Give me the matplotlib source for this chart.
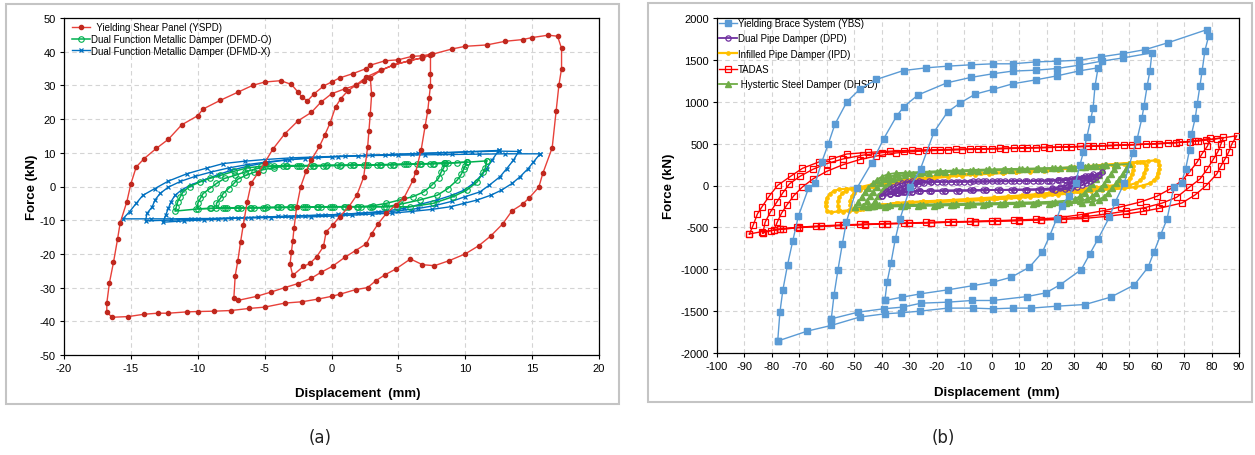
import numpy as np
import matplotlib.pyplot as plt
from matplotlib.patches import Rectangle

plt.rcParams['font.family'] = ['Liberation Sans', 'DejaVu Sans']
plt.rcParams['axes.unicode_minus'] = False

# ---------------- (a) data: force (kN) vs displacement (mm) ----------------
yspd = [(2.9,32.3),(3.0,27.3),(2.9,21.6),(2.8,16.4),(2.7,11.6),(2.4,2.7),(1.9,-2.5),(1.3,-6),(0.6,-9),(0.1,-11.4),
        (-0.4,-13.4),(-0.6,-17.8),(-1.1,-20.8),(-1.6,-22.8),(-2.1,-23.7),(-2.9,-26.4),(-3.1,-23),(-3.0,-19.5),(-2.9,-16.3),
        (-2.8,-12.3),(-2.6,-6),(-2.3,0),(-1.9,4.5),(-1.5,8),(-0.9,11.9),(-0.5,15.3),(-0.1,18.9),(0.3,23.6),(0.7,26.1),
        (1.2,28.3),(1.8,30),(2.4,31.2),(2.9,32.3),(3.7,34.5),(4.6,36),(5.8,37.3),(6.8,38.2),(7.4,39.0),
        (7.4,33.5),(7.4,29.9),(7.3,26.4),(7.2,22.5),(7.0,17.9),(6.7,10.8),(6.3,4.4),(6.1,1.9),(5.4,-3.5),(4.8,-5.5),
        (4.1,-8),(3.5,-11),(3.0,-14),(2.6,-17),(1.8,-19),(1.0,-21),(0.1,-23.6),(-0.8,-25.5),(-1.5,-27.2),(-2.5,-28.8),
        (-3.5,-30),(-4.5,-31.3),(-5.6,-32.6),(-7.0,-33.8),(-7.3,-33.0),(-7.2,-26.5),(-7.0,-22),(-6.8,-16.5),(-6.6,-11.5),
        (-6.3,-4.5),(-6.0,1),(-5.5,4),(-5.0,7),(-4.4,11),(-3.5,15.6),(-2.5,19.5),(-1.5,22),(-0.8,25),(0,27.5),(1.0,29),
        (1.8,30),(2.6,32.5),(3.7,34.5),(4.6,36),(5.8,37.3),(6.8,38.2),(7.5,39.2),
        (9.0,40.8),(10.0,41.6),(11.6,42.0),(13.0,43.1),(14.3,43.6),(15.0,44.2),(16.2,44.9),(16.9,44.6),(17.2,41),(17.2,35),
        (17.0,30),(16.8,22.5),(16.5,11.5),(15.8,3.9),(15.5,-0.2),(14.8,-3.3),(14.3,-5.2),(13.5,-7.2),(12.8,-11.1),
        (11.9,-14.7),(11.0,-17.6),(10.0,-20),(8.8,-22),(7.7,-23.5),(6.8,-23.2),(5.9,-21.5),(4.8,-24.5),(4.0,-26.2),
        (3.3,-28),(2.7,-30),(1.8,-30.6),(0.6,-32),(0,-32.6),(-1.0,-33.4),(-2.2,-34.2),(-3.5,-34.6),(-5.0,-35.8),
        (-6.2,-36.2),(-7.5,-36.8),(-8.8,-37),(-10.0,-37.1),(-10.8,-37.2),(-12.2,-37.6),(-13.0,-37.6),(-14.0,-37.9),
        (-15.2,-38.6),(-16.4,-38.8),(-16.8,-37.3),(-16.8,-34.6),(-16.6,-28.5),(-16.3,-22.5),(-16.0,-15.7),(-15.8,-10.8),
        (-15.3,-4.5),(-15.0,0.8),(-14.6,5.8),(-14.0,8.3),(-13.1,11.3),(-12.2,14),(-11.2,18.3),(-10.0,21),(-9.6,23),
        (-8.3,25.6),(-7.0,28),(-5.9,30),(-5.0,31),(-3.8,31.4),(-3.0,30.3),(-2.5,28),(-2.2,26.5),(-1.8,25.4),(-1.3,27.5),
        (-0.6,29.8),(0,31),(0.6,32.2),(1.6,33.5),(2.6,35),(2.9,36),(4.0,37.3),(5.0,37.6),(6.0,38.6),(6.8,38.8),(7.5,39.3)]

dfmd_o = [
    [(8.5,7.0),(8.4,5.6),(8.2,4.3),(8.0,2.4),(7.5,0.4),(6.9,-1.6),(6.1,-3.0),(5.1,-4.0),(4.1,-5.0),(3.1,-5.7),(2.2,-6.0),
     (1.2,-6.0),(0.2,-6.0),(-0.8,-6.0),(-1.8,-6.1),(-2.8,-6.1),(-3.8,-6.2),(-4.8,-6.2),(-5.8,-6.3),(-6.8,-6.3),(-7.8,-6.3),
     (-8.6,-6.4),(-8.6,-5.0),(-8.3,-3.5),(-8.1,-2.1),(-7.7,-0.6),(-7.3,0.9),(-7.0,2.2),(-6.4,3.3),(-5.8,4.2),(-5.1,5.0),
     (-4.3,5.6),(-3.4,6.0),(-2.4,6.1),(-1.4,6.1),(-0.4,6.2),(0.6,6.2),(1.6,6.3),(2.6,6.3),(3.6,6.4),(4.6,6.5),(5.6,6.6),
     (6.6,6.7),(7.6,6.8)],
    [(10.1,7.3),(10.0,6.2),(9.9,5.3),(9.7,3.6),(9.4,1.9),(8.7,-0.6),(7.9,-2.6),(6.6,-4.0),(5.1,-5.3),(4.1,-6.0),(3.0,-6.0),
     (2.0,-6.0),(1.0,-6.0),(0,-6.0),(-1.0,-6.1),(-2.0,-6.1),(-3.0,-6.2),(-4.0,-6.2),(-5.0,-6.3),(-6.0,-6.3),(-7.0,-6.4),
     (-8.0,-6.4),(-9.0,-6.5),(-10.0,-6.6),(-10.0,-5.0),(-9.8,-3.5),(-9.6,-2.1),(-9.1,-0.6),(-8.6,0.9),(-8.0,2.4),
     (-7.2,3.3),(-6.5,4.3),(-5.6,5.3),(-4.6,6.0),(-3.6,6.1),(-2.6,6.1),(-1.6,6.2),(-0.6,6.2),(0.4,6.3),(1.4,6.3),
     (2.4,6.4),(3.4,6.4),(4.4,6.5),(5.4,6.6),(6.4,6.7),(7.4,6.8),(8.4,6.9),(9.4,7.1)],
    [(11.6,7.6),(11.5,5.5),(11.35,4.3),(10.9,1.4),(10.1,-1.1),(9.1,-3.0),(7.6,-5.0),(5.9,-6.0),(4.9,-6.0),(3.9,-6.0),
     (2.9,-6.0),(1.9,-6.0),(0.9,-6.0),(-0.1,-6.1),(-1.1,-6.1),(-2.1,-6.1),(-3.1,-6.2),(-4.1,-6.2),(-5.1,-6.3),(-6.1,-6.3),
     (-7.1,-6.4),(-8.1,-6.4),(-9.1,-6.5),(-10.1,-6.7),(-11.7,-7.3),(-11.6,-6.0),(-11.5,-4.5),(-11.3,-3.0),(-11.1,-1.6),
     (-10.6,0),(-9.8,1.4),(-9.1,2.4),(-8.3,3.3),(-7.3,4.5),(-6.3,5.5),(-5.3,6.0),(-4.3,6.1),(-3.3,6.2),(-2.3,6.2),
     (-1.3,6.2),(-0.3,6.3),(0.7,6.3),(1.7,6.4),(2.7,6.4),(3.7,6.5),(4.7,6.5),(5.7,6.6),(6.7,6.7),(7.7,6.8),(8.7,6.9),
     (10.1,7.2)],
]

dfmd_x = [
    [(12.5,10.7),(12.0,7.8),(11.6,5.3),(11.2,3.3),(10.6,0.9),(9.9,-1.1),(9.0,-2.6),(7.9,-4.0),(6.6,-5.3),(5.4,-6.5),
     (4.0,-7.3),(2.5,-7.8),(1.0,-8.2),(-0.5,-8.5),(-2,-8.7),(-3.5,-8.9),(-5,-9.1),(-6.5,-9.3),(-8,-9.6),(-9.5,-9.9),
     (-11,-10.2),(-12.6,-10.6),(-12.4,-8.5),(-12.2,-6.5),(-12.0,-4.5),(-11.7,-2.6),(-11.2,-1.0),(-10.5,0.5),(-9.5,2.0),
     (-8.5,3.5),(-7.5,4.8),(-6.3,6.0),(-5,7),(-3.5,7.8),(-2,8.3),(0,8.8),(2,9.1),(4,9.4),(6,9.7),(8,10.0),(10,10.3)],
    [(14.0,10.4),(13.6,7.8),(13.1,5.3),(12.6,2.9),(11.8,0.4),(11.1,-1.6),(10.0,-3.0),(9.0,-4.4),(7.8,-5.6),(6.5,-6.5),
     (5.0,-7.2),(3.5,-7.7),(2,-8.0),(0.5,-8.3),(-1,-8.5),(-2.5,-8.7),(-4,-8.9),(-5.5,-9.1),(-7,-9.3),(-8.5,-9.5),
     (-10,-9.7),(-11.5,-9.9),(-13.9,-10.2),(-13.8,-8),(-13.4,-6),(-13.2,-4),(-12.8,-2),(-12.2,-0.2),(-11.3,1.5),
     (-10.2,3.0),(-9,4.3),(-7.7,5.5),(-6.3,6.5),(-4.8,7.3),(-3.2,8.0),(-1.5,8.5),(0.5,8.9),(2.5,9.2),(4.5,9.5),
     (6.5,9.8),(8.5,10.0),(10.5,10.3),(12.5,10.5)],
    [(15.6,9.7),(15.1,7.3),(14.7,5.3),(14.1,2.9),(13.5,0.9),(12.7,-1.1),(11.9,-2.6),(10.9,-4.0),(9.9,-5.0),(8.9,-6.0),
     (7.5,-6.8),(6,-7.4),(4.5,-7.9),(3,-8.2),(1.5,-8.5),(0,-8.8),(-1.5,-9.0),(-3,-9.1),(-4.5,-9.2),(-6,-9.3),
     (-7.5,-9.4),(-9,-9.5),(-10.5,-9.5),(-12,-9.6),(-13.5,-9.6),(-15.6,-9.6),(-15.1,-7.5),(-14.6,-5),(-14.1,-2.6),
     (-13.2,-0.6),(-12.2,1.6),(-10.8,3.8),(-9.3,5.5),(-8.1,6.8),(-6.5,7.5),(-5,8),(-3,8.5),(-1,8.8),(1,9.0),(3,9.2),
     (5,9.3),(7,9.4),(9,9.5),(11,9.6),(13,9.7)],
]

# ---------------- (b) data ----------------
ybs = [
    [(-38.9,-1373),(-38.1,-1155),(-36.7,-929),(-35.1,-639),(-33.4,-400),(-29.7,-21),(-25.9,202),(-21.0,639),(-16.1,877),
     (-11.4,988),(-6.0,1091),(0.4,1147),(7.6,1214),(16.1,1262),(23.9,1310),(31.9,1369),(38.7,1405),(37.6,1190),
     (36.9,930),(36.1,800),(34.6,575),(33.4,403),(32.1,245),(30.5,30),(28.0,-130),(25.4,-242),(23.6,-400),(21.1,-600),
     (18.4,-798),(13.7,-976),(7.1,-1095),(0.4,-1155),(-6.7,-1195),(-16.0,-1246),(-26.0,-1294),(-32.7,-1334)],
    [(-58.4,-1592),(-57.4,-1306),(-56.0,-1012),(-54.4,-702),(-52.9,-432),(-49.1,-32),(-43.6,274),(-39.3,560),
     (-34.6,830),(-32.0,940),(-26.9,1080),(-16.3,1226),(-7.7,1290),(0.4,1334),(7.6,1366),(16.1,1377),(23.7,1397),
     (31.9,1437),(40.1,1485),(47.9,1524),(58.3,1584),(57.6,1373),(56.6,1194),(55.4,948),(54.7,810),(52.9,552),
     (51.4,393),(48.2,26),(44.9,-200),(42.8,-380),(38.7,-638),(35.7,-817),(32.6,-1004),(25.0,-1183),(19.7,-1282),
     (12.9,-1326),(0.4,-1373),(-7.1,-1373),(-16.0,-1393),(-25.7,-1405),(-32.4,-1452),(-39.3,-1472),(-48.6,-1512)],
    [(-77.9,-1857),(-77.1,-1512),(-76.0,-1242),(-74.3,-944),(-72.4,-658),(-70.4,-368),(-66.7,-33),(-64.3,26),
     (-61.9,277),(-59.5,495),(-57.1,730),(-52.7,1000),(-48.1,1147),(-42.0,1266),(-32.1,1373),(-23.9,1405),(-16.0,1425),
     (-7.7,1441),(0.4,1453),(7.6,1453),(16.1,1476),(23.7,1484),(31.9,1496),(39.7,1536),(47.9,1576),(55.9,1623),
     (64.0,1703),(78.3,1861),(79.0,1790),(77.6,1611),(76.6,1373),(75.8,1194),(74.8,976),(74.1,810),(72.7,611),
     (72.0,425),(70.6,202),(69.1,35),(66.3,-16),(63.8,-401),(61.5,-587),(59.0,-798),(56.9,-976),(51.9,-1187),
     (43.3,-1333),(34.0,-1421),(23.7,-1441),(14.4,-1464),(7.6,-1464),(0.4,-1472),(-6.7,-1464),(-16.0,-1464),
     (-26.0,-1500),(-33.1,-1520),(-38.9,-1532),(-48.1,-1571),(-58.4,-1671),(-67.1,-1738)],
]

dpd = [
    [(-40,-122),(-39,-95),(-38,-68),(-37,-42),(-35.8,-18),(-34.4,5),(-32.8,25),(-31,42),(-29,52),(-26.5,55),(-23,50),
     (-20,46),(-15,46),(-10,47),(-5,48),(0,50),(5,52),(10,54),(15,56),(20,58),(24,60),(27,65),(30,72),(32.5,82),
     (34.5,95),(36.5,110),(38.5,130),(40,157),(39,130),(38,103),(37,76),(35.8,50),(34.4,25),(32.8,2),(31,-20),(29,-35),
     (26.5,-45),(23,-50),(18,-50),(13,-50),(8,-51),(3,-53),(-2,-56),(-7,-59),(-12,-61),(-17,-62),(-22,-63),(-26,-66),
     (-29,-72),(-32,-80),(-34.5,-90),(-37,-103)],
    [(-37,-105),(-36,-78),(-34.8,-52),(-33.4,-28),(-31.8,-6),(-30,14),(-28,30),(-25.5,42),(-22,46),(-17,46),(-12,47),
     (-7,48),(-2,49),(3,51),(8,53),(13,55),(18,57),(22,59),(25,63),(28,70),(30.5,80),(32.7,93),(35,110),(37,135),
     (36,110),(35,85),(33.8,60),(32.5,36),(31,14),(29.3,-6),(27.3,-22),(25,-35),(22,-44),(17,-49),(12,-50),(7,-51),
     (2,-53),(-3,-56),(-8,-59),(-13,-61),(-18,-62),(-23,-63),(-27,-66),(-30,-73),(-32.5,-82),(-35,-92)],
    [(-34,-90),(-33,-65),(-31.8,-42),(-30.4,-20),(-28.8,0),(-27,17),(-24.8,32),(-22,42),(-18,46),(-13,46),(-8,47),
     (-3,48),(2,50),(7,52),(12,54),(17,56),(21,58),(24,62),(26.5,70),(29,80),(31,93),(34,115),(33,92),(31.8,68),
     (30.4,45),(28.8,22),(27,2),(24.8,-16),(22,-32),(18,-43),(13,-49),(8,-51),(3,-53),(-2,-56),(-7,-58),(-12,-60),
     (-17,-62),(-22,-63),(-26,-66),(-29,-72),(-31.5,-80)],
]

ipd = [
    [(-53,-40),(-48,-20),(-44,10),(-40,35),(-36,55),(-31,71),(-26,90),(-21,105),(-17,120),(-13,131),(-8,142),(-4,150),
     (0,155),(5,160),(10,170),(15,180),(20,190),(25,205),(30,220),(35,232),(40,245),(45,258),(50,270),(54,282),
     (57,292),(59.5,300),(60.5,290),(61,250),(61,200),(60.5,150),(60,100),(59,60),(57.5,25),(55,0),(52,-20),(48,-35),
     (44,-45),(40,-55),(36,-67),(32,-80),(28,-95),(24,-110),(19,-127),(14,-137),(10,-147),(5,-157),(1,-167),(-4,-175),
     (-9,-185),(-14,-190),(-20,-198),(-26,-200),(-31,-205),(-36,-215),(-40,-235),(-44,-255),(-48,-275),(-52,-295),
     (-56,-310),(-58.5,-320),(-60,-300),(-60.5,-250),(-60.5,-200),(-60,-150),(-59,-100),(-57.5,-65),(-55.5,-45)],
    [(-48,-30),(-44,-5),(-40,20),(-36,42),(-31,62),(-26,80),(-21,97),(-16,112),(-11,125),(-6,136),(-1,145),(4,152),
     (9,162),(14,172),(19,183),(24,196),(29,210),(34,224),(39,238),(44,250),(49,262),(53,275),(55,285),(56,245),
     (56,195),(55.5,145),(55,100),(54,60),(52.5,28),(50,5),(47,-12),(43,-26),(39,-40),(35,-55),(31,-70),(27,-86),
     (22,-102),(17,-118),(12,-130),(7,-142),(2,-153),(-3,-163),(-8,-172),(-13,-180),(-19,-190),(-24,-195),(-29,-200),
     (-34,-210),(-39,-230),(-44,-255),(-48,-280),(-52,-302),(-54,-315),(-55.5,-290),(-56,-240),(-56,-190),
     (-55.5,-140),(-54.5,-95),(-53,-60),(-51,-40)],
    [(-43,-20),(-39,5),(-35,28),(-31,50),(-26,70),(-21,88),(-16,104),(-11,118),(-6,130),(-1,140),(4,148),(9,157),
     (14,167),(19,178),(24,190),(29,203),(34,217),(39,230),(44,242),(48,255),(51,268),(51.5,230),(51.5,185),(51,140),
     (50.5,95),(49.5,58),(48,28),(45.5,8),(42,-8),(38,-22),(34,-38),(30,-54),(26,-70),(21,-88),(16,-104),(11,-118),
     (6,-130),(1,-142),(-4,-152),(-9,-162),(-14,-172),(-20,-182),(-25,-190),(-30,-198),(-35,-212),(-40,-235),
     (-44,-262),(-47,-285),(-49.5,-305),(-51,-280),(-51.5,-230),(-51.5,-180),(-51,-130),(-50,-85),(-48,-50),(-46,-30)],
]

tadas = [
    [(-88.2,-579),(-86.8,-471),(-85.3,-340),(-83.6,-253),(-80.9,-122),(-77.9,2),(-73.2,110),(-68.9,205),(-63,280),
     (-58,320),(-52.8,376),(-45,395),(-37,410),(-29,420),(-21,428),(-13,432),(-5,438),(3,443),(11,450),(19,455),
     (27,462),(35,470),(43,478),(51,488),(59,498),(67,512),(75,532),(82,558),(89.2,594),(87.4,495),(86.2,396),
     (84.8,310),(83.5,236),(81.9,137),(78,-2),(74,-113),(69.2,-209),(61,-272),(55,-310),(49,-340),(42,-368),(34,-392),
     (26,-405),(18,-412),(10,-420),(2,-428),(-6,-433),(-14,-438),(-22,-446),(-30,-452),(-38,-458),(-46,-467),
     (-54,-477),(-62,-488),(-70,-503),(-77,-525),(-83.7,-551)],
    [(-83.3,-567),(-82.5,-440),(-80.5,-313),(-78.3,-201),(-76.1,-90),(-73.7,17),(-69.8,110),(-65,195),(-60,262),
     (-54,318),(-47,362),(-40,392),(-32,410),(-24,422),(-16,428),(-8,435),(0,440),(8,447),(16,452),(24,458),(32,466),
     (40,474),(48,484),(56,494),(64,506),(72,522),(78,542),(84.3,574),(83.4,490),(82.3,403),(80.7,316),(78.5,200),
     (75.8,78),(71.9,-21),(67.3,-141),(62,-210),(56,-262),(49,-305),(42,-340),(34,-372),(26,-395),(18,-408),
     (10,-416),(2,-424),(-6,-430),(-14,-436),(-22,-443),(-30,-450),(-38,-457),(-46,-465),(-54,-475),(-62,-486),
     (-70,-500),(-77,-520),(-80.5,-540)],
    [(-79.2,-527),(-78,-432),(-76.5,-330),(-74.5,-230),(-72,-120),(-69,-20),(-65,80),(-60,170),(-54,250),(-48,310),
     (-42,352),(-35,388),(-27,408),(-19,420),(-11,428),(-3,434),(5,440),(13,447),(21,453),(29,460),(37,468),(45,478),
     (53,488),(61,500),(68,515),(74,535),(79.5,562),(78.5,470),(76.5,376),(74.7,277),(71.9,158),(69.2,57),(64.9,-42),
     (60,-130),(54,-198),(47,-255),(40,-305),(32,-350),(24,-385),(16,-403),(8,-413),(0,-421),(-8,-428),(-16,-434),
     (-24,-441),(-32,-448),(-40,-455),(-48,-463),(-56,-473),(-64,-485),(-71,-500),(-76,-515)],
]

dhsd = [
    [(-49.8,-260),(-48.6,-200),(-47.4,-140),(-46.2,-80),(-44.9,-25),(-43.4,25),(-41.8,70),(-40,105),(-37.8,135),
     (-35,148),(-30,155),(-25,163),(-19,172),(-13,180),(-7,186),(-1,192),(5,196),(11,200),(17,205),(23,211),(29,218),
     (35,228),(40,238),(45,247),(49.8,257),(48.8,200),(47.6,140),(46.4,80),(45.2,25),(43.9,-30),(42.4,-85),
     (40.8,-135),(39,-170),(36.5,-195),(33,-207),(27,-212),(21,-216),(15,-219),(9,-222),(3,-225),(-3,-229),(-9,-233),
     (-15,-237),(-21,-241),(-27,-245),(-33,-249),(-39,-253),(-45,-257)],
    [(-46.7,-250),(-45.5,-190),(-44.3,-130),(-43.1,-72),(-41.8,-20),(-40.3,28),(-38.7,72),(-36.9,105),(-34.7,132),
     (-31.5,145),(-26,153),(-20,162),(-14,171),(-8,178),(-2,185),(4,190),(10,194),(16,199),(22,205),(28,212),(33,220),
     (37,229),(41.5,240),(45.5,250),(44.5,195),(43.3,135),(42.1,78),(40.9,22),(39.6,-32),(38.1,-85),(36.5,-130),
     (34.5,-165),(32,-188),(28,-200),(22,-206),(16,-210),(10,-213),(4,-216),(-2,-220),(-8,-224),(-14,-228),(-20,-232),
     (-26,-236),(-32,-240),(-38,-244),(-43,-247)],
    [(-43.7,-241),(-42.5,-182),(-41.3,-124),(-40.1,-66),(-38.8,-15),(-37.3,32),(-35.7,74),(-33.9,106),(-31.7,130),
     (-28.5,142),(-23,150),(-17,159),(-11,168),(-5,176),(1,183),(7,188),(13,193),(19,198),(25,204),(30,212),(34,222),
     (38,234),(41.2,245),(40.2,190),(39,130),(37.8,74),(36.6,20),(35.3,-33),(33.8,-85),(32.2,-128),(30.2,-160),
     (27.5,-180),(23,-192),(17,-199),(11,-203),(5,-207),(-1,-211),(-7,-215),(-13,-219),(-19,-223),(-25,-227),
     (-31,-231),(-37,-235),(-41,-238)],
]


def draw(ax, loops, label, close=True, **style):
    for i, pts in enumerate(loops):
        a = np.array(pts)
        if close:
            a = np.vstack([a, a[:1]])
        ax.plot(a[:, 0], a[:, 1], label=label if i == 0 else None, **style)


W, H = 1255, 456
fig = plt.figure(figsize=(W / 100, H / 100), dpi=100)

# panel frames
fig.patches.append(Rectangle((6 / W, 1 - 405 / H), 613 / W, 400 / H, transform=fig.transFigure,
                             fill=False, edgecolor='#c4c4c4', linewidth=1.5))
fig.patches.append(Rectangle((648 / W, 1 - 403 / H), 604 / W, 399 / H, transform=fig.transFigure,
                             fill=False, edgecolor='#c4c4c4', linewidth=1.5))

ax1 = fig.add_axes([64 / W, 1 - 356 / H, 535 / W, 337 / H])
ax2 = fig.add_axes([717 / W, 1 - 354 / H, 522 / W, 335 / H])

for ax in (ax1, ax2):
    ax.grid(True, color='#d4d4d4', linestyle=(0, (4, 3)), linewidth=0.8)
    ax.set_axisbelow(True)
    ax.tick_params(labelsize=8, length=3, width=0.8, direction='out', pad=3)
    for s in ax.spines.values():
        s.set_linewidth(0.9)

# (a)
draw(ax1, dfmd_x, 'Dual Function Metallic Damper (DFMD-X)', color='#0070c0', lw=1.0,
     marker='x', ms=3.5, mew=0.9, zorder=3)
draw(ax1, dfmd_o, 'Dual Function Metallic Damper (DFMD-O)', color='#00b050', lw=1.1,
     marker='o', ms=4, mfc='none', mew=0.8, zorder=4)
draw(ax1, [yspd], '  Yielding Shear Panel (YSPD)', close=False, color='#e8413a', lw=1.0,
     marker='o', ms=3, mfc='#c0281e', mec='#c0281e', zorder=5)
ax1.set_xlim(-20, 20)
ax1.set_ylim(-50, 50)
ax1.set_xticks(np.arange(-20, 21, 5))
ax1.set_yticks(np.arange(-50, 51, 10))
ax1.set_xlabel('Displacement  (mm)', fontsize=9.5, fontweight='bold')
ax1.set_ylabel('Force (kN)', fontsize=9.5, fontweight='bold')
ax1.xaxis.set_label_coords((358 - 64) / 535, -(388 - 356) / 337)
ax1.yaxis.set_label_coords((38 - 64) / 535, 0.5)
h, l = ax1.get_legend_handles_labels()
order = [2, 1, 0]
ax1.legend([h[i] for i in order], [l[i] for i in order], loc='upper left',
           bbox_to_anchor=((72 - 64) / 535, (356 - 23) / 337), frameon=False, fontsize=7,
           borderpad=0, borderaxespad=0, handlelength=1.8, handletextpad=0.15, labelspacing=0.2)

# (b)
draw(ax2, ipd, 'Infilled Pipe Damper (IPD)', color='#ffc000', lw=1.6, marker='o', ms=2.8,
     mew=0.5, zorder=2)
draw(ax2, dhsd, ' Hystertic Steel Damper (DHSD)', color='#70ad47', lw=1.3, marker='^', ms=3.8,
     zorder=3)
draw(ax2, dpd, 'Dual Pipe Damper (DPD)', color='#7030a0', lw=1.3, marker='o', ms=3.8,
     mfc='none', mew=0.9, zorder=4)
draw(ax2, tadas, 'TADAS', color='#ff0000', lw=1.0, marker='s', ms=4, mfc='none', mew=0.9,
     zorder=5)
draw(ax2, ybs, 'Yielding Brace System (YBS)', color='#5b9bd5', lw=1.0, marker='s',
     ms=4, zorder=6)
ax2.set_xlim(-100, 90)
ax2.set_ylim(-2000, 2000)
ax2.set_xticks(np.arange(-100, 91, 10))
ax2.set_yticks(np.arange(-2000, 2001, 500))
ax2.set_xlabel('Displacement  (mm)', fontsize=9.5, fontweight='bold')
ax2.set_ylabel('Force (kN)', fontsize=9.5, fontweight='bold')
ax2.xaxis.set_label_coords((997 - 717) / 522, -(387 - 354) / 335)
ax2.yaxis.set_label_coords((675 - 717) / 522, 0.5)
h, l = ax2.get_legend_handles_labels()
lab_order = ['Yielding Brace System (YBS)', 'Dual Pipe Damper (DPD)', 'Infilled Pipe Damper (IPD)',
             'TADAS', ' Hystertic Steel Damper (DHSD)']
hh = [h[l.index(s)] for s in lab_order]
ax2.legend(hh, lab_order, loc='upper left', bbox_to_anchor=((719 - 717) / 522, 1.0), frameon=False,
           fontsize=7, borderpad=0, borderaxespad=0, handlelength=1.8, handletextpad=0.15,
           labelspacing=0.55)

fig.text(320 / W, 1 - 438 / H, '(a)', ha='center', va='center', fontsize=12, color='#222222',
         family='DejaVu Sans')
fig.text(943 / W, 1 - 438 / H, '(b)', ha='center', va='center', fontsize=12, color='#222222',
         family='DejaVu Sans')

fig.savefig('out.png', dpi=100)
